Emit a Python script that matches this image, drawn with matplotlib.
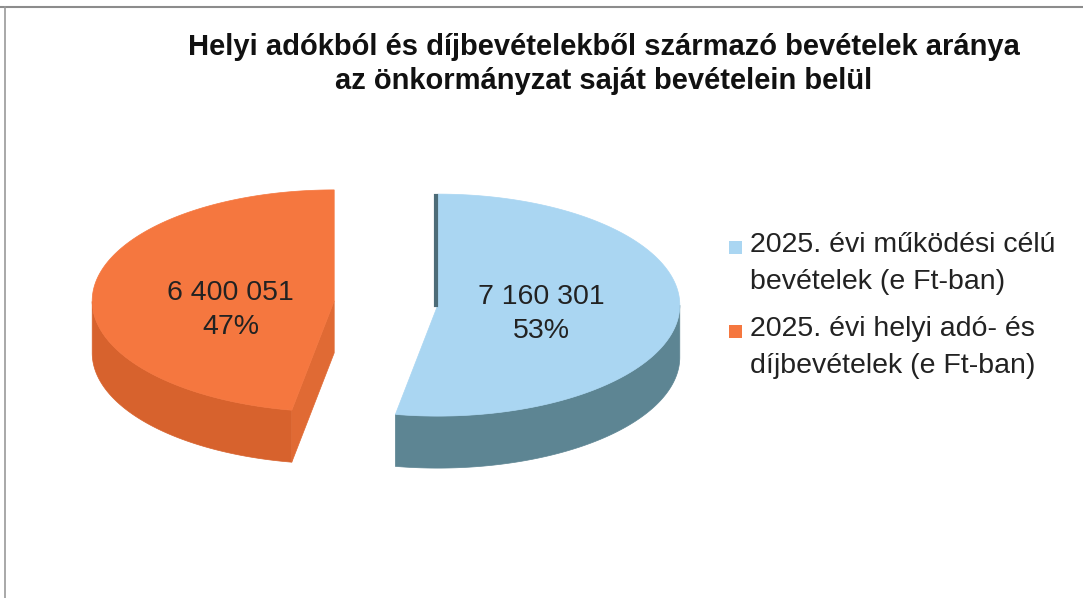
import numpy as np
import matplotlib
matplotlib.use("Agg")
import matplotlib.pyplot as plt
from matplotlib.patches import Polygon, Rectangle
from matplotlib import font_manager

# chart data
categories = ["2025. évi működési célú\nbevételek (e Ft-ban)",
              "2025. évi helyi adó- és\ndíjbevételek (e Ft-ban)"]
values = [7160301, 6400051]
top_colors = ["#aad6f2", "#f5773f"]
side_colors = ["#5d8593", "#d7622d"]
face_colors = ["#4d6c78", "#e06a34"]
title = "Helyi adókból és díjbevételekből származó bevételek aránya\naz önkormányzat saját bevételein belül"

names = {f.name for f in font_manager.fontManager.ttflist}
title_font = "Liberation Sans Narrow" if "Liberation Sans Narrow" in names else "Liberation Sans"
plt.rcParams["font.family"] = ["Liberation Sans", "DejaVu Sans"]

W, H = 1083, 598
fig = plt.figure(figsize=(W / 100, H / 100), dpi=100)
ax = fig.add_axes([0, 0, 1, 1])
ax.set_xlim(0, W)
ax.set_ylim(H, 0)
ax.axis("off")

# scanned frame: only top and left edges show
ax.plot([0, W], [7, 7], color="#8c8c8c", lw=1.5)
ax.plot([5, 5], [7, H], color="#9a9a9a", lw=1.2)

ax.text(604, 64, title, ha="center", va="center", fontsize=21, fontweight="bold",
        family=[title_font, "DejaVu Sans"], linespacing=1.3, color="#111111")

# pie geometry (pixels)
cx0, cy0 = 386, 303
a, b = 242, 111
depth = 52
explode = 52


def pt(cx, cy, t):
    return cx + a * np.cos(t), cy - b * np.sin(t)


def wedge3d(cx, cy, t1, t2, top, side, face):
    # outer wall on the front half (sin < 0)
    ts = np.linspace(t1, t2, 400)
    front = np.sin(ts) < 0
    if front.any():
        tf = ts[front]
        xs, ys = pt(cx, cy, tf)
        poly = np.column_stack([np.r_[xs, xs[::-1]], np.r_[ys, ys[::-1] + depth]])
        ax.add_patch(Polygon(poly, closed=True, fc=side, ec=side, lw=0.5, zorder=2))
    # radial cut faces facing the viewer
    for t, n in ((t1, t1 - np.pi / 2), (t2, t2 + np.pi / 2)):
        if np.sin(n) < -1e-6:
            ex, ey = pt(cx, cy, t)
            poly = [(cx, cy), (ex, ey), (ex, ey + depth), (cx, cy + depth)]
            ax.add_patch(Polygon(poly, closed=True, fc=face, ec=face, lw=0.5, zorder=2))
    xs, ys = pt(cx, cy, ts)
    poly = np.column_stack([np.r_[cx, xs], np.r_[cy, ys]])
    ax.add_patch(Polygon(poly, closed=True, fc=top, ec=top, lw=0.5, zorder=3))


total = sum(values)
start = np.pi / 2
for i, v in enumerate(values):
    span = 2 * np.pi * v / total
    t2 = start
    t1 = start - span  # clockwise from 12 o'clock
    mid = (t1 + t2) / 2
    cx = cx0 + explode * np.cos(mid)
    cy = cy0 - explode * np.sin(mid) * b / a
    wedge3d(cx, cy, t1, t2, top_colors[i], side_colors[i], face_colors[i])
    if i == 0:
        # inner face along the 12 o'clock cut, seen edge-on
        ax.plot([cx - 2, cx - 2], [cy - b + 2, cy], color=face_colors[i], lw=3, zorder=4)
    lx = cx + 0.43 * a * np.cos(mid)
    ly = cy + 9
    pct = 100 * v / total
    ax.text(lx, ly, f"{v:,}".replace(",", " ") + f"\n{pct:.0f}%", ha="center", va="center",
            fontsize=20.5, color="#222222", linespacing=1.4, zorder=5)
    start = t1

# legend
for i, lab in enumerate(categories):
    y0 = 248 + 84 * i
    ax.add_patch(Rectangle((729, y0 - 7), 13, 13, fc=top_colors[i], ec="none", zorder=5))
    ax.text(750, y0 - 16, lab, ha="left", va="top", fontsize=20.5, color="#222222",
            linespacing=1.55, zorder=5)

fig.savefig("out.png", dpi=100)
